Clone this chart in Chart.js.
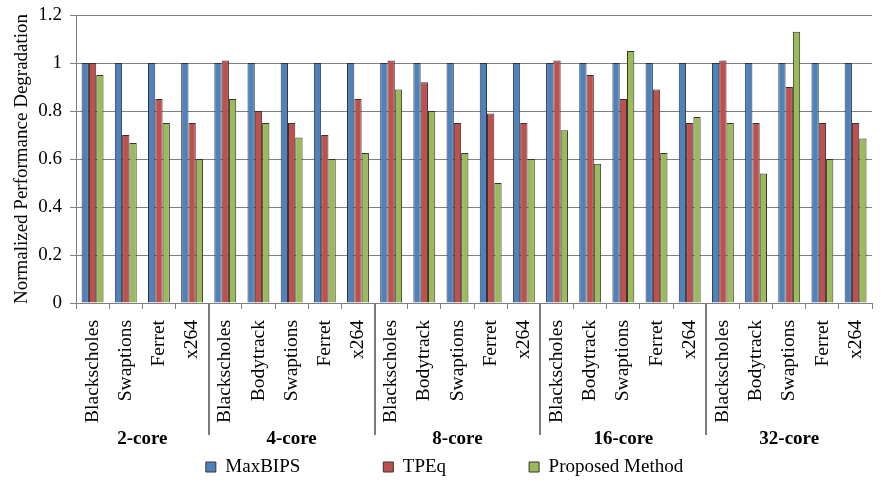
<!DOCTYPE html>
<html>
<head>
<meta charset="utf-8">
<script src="https://cdn.jsdelivr.net/npm/chart.js@4/dist/chart.umd.min.js"></script>
<style>
  html, body { margin: 0; padding: 0; background: #fff; }
  #wrap { width: 890px; height: 480px; }
</style>
</head>
<body>
<div id="wrap"><canvas id="c" width="890" height="480"></canvas></div>
<script>
// Benchmarks per core-count group
const benchmarks = [
  'Blackscholes', 'Swaptions', 'Ferret', 'x264',
  'Blackscholes', 'Bodytrack', 'Swaptions', 'Ferret', 'x264',
  'Blackscholes', 'Bodytrack', 'Swaptions', 'Ferret', 'x264',
  'Blackscholes', 'Bodytrack', 'Swaptions', 'Ferret', 'x264',
  'Blackscholes', 'Bodytrack', 'Swaptions', 'Ferret', 'x264'
];
const groupNames = ['2-core', '4-core', '8-core', '16-core', '32-core'];
const groupSizes = [4, 5, 5, 5, 5];

// Normalized performance degradation per policy
const maxBIPS = [
  1, 1, 1, 1,
  1, 1, 1, 1, 1,
  1, 1, 1, 1, 1,
  1, 1, 1, 1, 1,
  1, 1, 1, 1, 1
];
const tpeq = [
  1.00, 0.70, 0.85, 0.75,
  1.01, 0.80, 0.75, 0.70, 0.85,
  1.01, 0.92, 0.75, 0.79, 0.75,
  1.01, 0.95, 0.85, 0.89, 0.75,
  1.01, 0.75, 0.90, 0.75, 0.75
];
const proposed = [
  0.95, 0.667, 0.75, 0.60,
  0.85, 0.75, 0.69, 0.60, 0.625,
  0.89, 0.80, 0.625, 0.50, 0.60,
  0.72, 0.58, 1.05, 0.625, 0.775,
  0.75, 0.54, 1.13, 0.60, 0.685
];

const seriesNames = ['MaxBIPS', 'TPEq', 'Proposed Method'];
const seriesColors = ['#4F81BD', '#C0504D', '#9BBB59'];

const serif = '"Liberation Serif", "Times New Roman", serif';
const axisGray = '#808080';
const legendRowY = 467;

// Group separators and core-count captions below the category labels
const groupPlugin = {
  id: 'coreGroups',
  afterDraw(chart) {
    const xs = chart.scales.x;
    const ctx = chart.ctx;
    const axisY = xs.top;
    ctx.save();
    ctx.strokeStyle = '#7a7a7a';
    ctx.lineWidth = 2;
    ctx.fillStyle = '#000';
    ctx.font = 'bold 19px ' + serif;
    ctx.textAlign = 'center';
    ctx.textBaseline = 'middle';
    let start = 0;
    groupSizes.forEach((n, gi) => {
      const end = start + n;
      const left = start === 0 ? xs.left
        : (xs.getPixelForValue(start - 1) + xs.getPixelForValue(start)) / 2;
      const right = end === benchmarks.length ? xs.right
        : (xs.getPixelForValue(end - 1) + xs.getPixelForValue(end)) / 2;
      if (start > 0) {
        ctx.beginPath();
        ctx.moveTo(Math.round(left), axisY);
        ctx.lineTo(Math.round(left), axisY + 132);
        ctx.stroke();
      }
      ctx.fillText(groupNames[gi], (left + right) / 2, axisY + 136);
      start = end;
    });
    ctx.restore();
  }
};

// The legend keeps wide gaps between entries; its row is placed on a fixed line
// under the category labels while the layout only reserves a short strip for it.
const legendRowPlugin = {
  id: 'legendRow',
  afterLayout(chart) {
    const lg = chart.legend;
    if (!lg) return;
    const pad = lg.options.labels.padding;
    const size = lg.options.labels.font.size;
    lg.top = legendRowY - size / 2 - pad;
    lg.height = lg.bottom - lg.top;
  }
};

new Chart(document.getElementById('c'), {
  type: 'bar',
  data: {
    labels: benchmarks,
    datasets: [
      { label: seriesNames[0], data: maxBIPS, backgroundColor: seriesColors[0] },
      { label: seriesNames[1], data: tpeq, backgroundColor: seriesColors[1] },
      { label: seriesNames[2], data: proposed, backgroundColor: seriesColors[2] }
    ]
  },
  options: {
    responsive: false,
    animation: false,
    devicePixelRatio: 1,
    layout: { padding: { top: 15, right: 1, left: 0, bottom: 0 } },
    datasets: {
      bar: {
        categoryPercentage: 0.66,
        barPercentage: 1,
        borderWidth: 1,
        borderColor: '#333'
      }
    },
    plugins: {
      legend: {
        position: 'bottom',
        maxHeight: 52,
        labels: {
          boxWidth: 10,
          boxHeight: 10,
          padding: 83,
          color: '#000',
          font: { family: serif, size: 19 }
        }
      },
      tooltip: { enabled: false }
    },
    scales: {
      x: {
        grid: {
          display: true,
          drawOnChartArea: false,
          drawTicks: true,
          tickLength: 6,
          color: axisGray,
          offset: true
        },
        border: { color: axisGray },
        ticks: {
          minRotation: 90,
          maxRotation: 90,
          autoSkip: false,
          padding: 11,
          color: '#000',
          font: { family: serif, size: 19.5 }
        },
        afterFit(s) { s.height = 125; }
      },
      y: {
        min: 0,
        max: 1.2,
        ticks: {
          stepSize: 0.2,
          padding: 8,
          color: '#000',
          font: { family: serif, size: 19 },
          callback: (v) => String(Number(v.toFixed(1)))
        },
        grid: { color: axisGray, tickLength: 6 },
        border: { color: axisGray },
        title: {
          display: true,
          text: 'Normalized Performance Degradation',
          color: '#000',
          font: { family: serif, size: 19 },
          padding: { top: 11, bottom: 0 }
        },
        afterFit(s) {
          s.width = 76;
          s.paddingTop = 12;
        }
      }
    }
  },
  plugins: [groupPlugin, legendRowPlugin]
});
</script>
</body>
</html>
